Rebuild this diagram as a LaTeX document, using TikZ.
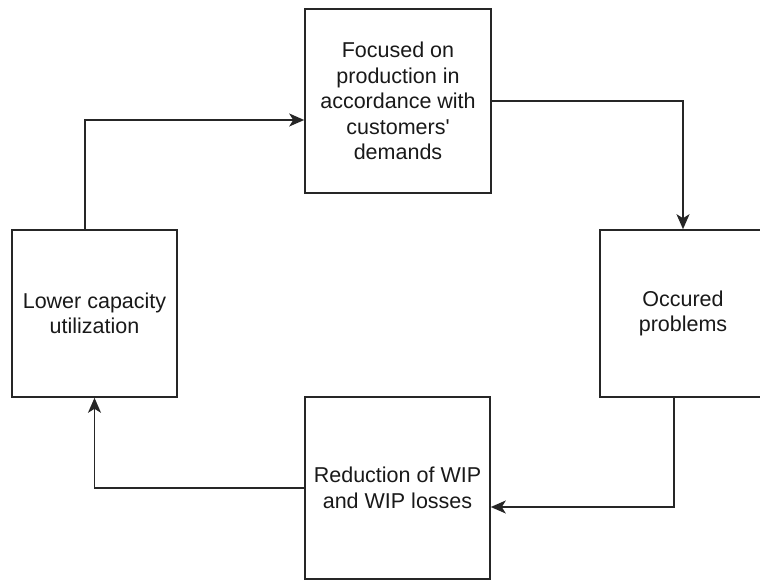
\documentclass[tikz,border=0pt]{standalone}
\usepackage{fontspec}
\setmainfont{Liberation Sans}
\usetikzlibrary{arrows.meta}
\begin{document}
\begin{tikzpicture}[x=1pt,y=-1pt,
  box/.style={draw=black!85, line width=1.6pt, fill=white, rectangle, inner sep=0pt,
    align=center, font=\fontsize{21.5}{25.5}\selectfont, text=black!90},
  arr/.style={draw=black!85, line width=1.6pt, -{Stealth[length=15pt,width=13pt,inset=4pt]}}]
\useasboundingbox (0,0) rectangle (760,580);
\clip (0,0) rectangle (760,580);
\node[box, minimum width=186pt, minimum height=184pt] (T) at (398,101)
  {Focused on\\production in\\accordance with\\customers\textquotesingle\\demands};
\node[box, minimum width=165pt, minimum height=167pt] (L) at (94.5,313.5)
  {Lower capacity\\utilization};
\node[box, minimum width=166pt, minimum height=167pt] (R) at (683,313.5)
  {Occured\\problems};
\node[box, minimum width=185pt, minimum height=182pt] (B) at (397.5,488)
  {Reduction of WIP\\and WIP losses};
\draw[arr] ([xshift=-9.5pt]L.north) |- ([yshift=-19pt]T.west);
\draw[arr] (T.east) -| (R.north);
\draw[arr] ([xshift=-9pt]R.south) |- ([yshift=-19pt]B.east);
\draw[arr] (B.west) -| (L.south);
\end{tikzpicture}
\end{document}
